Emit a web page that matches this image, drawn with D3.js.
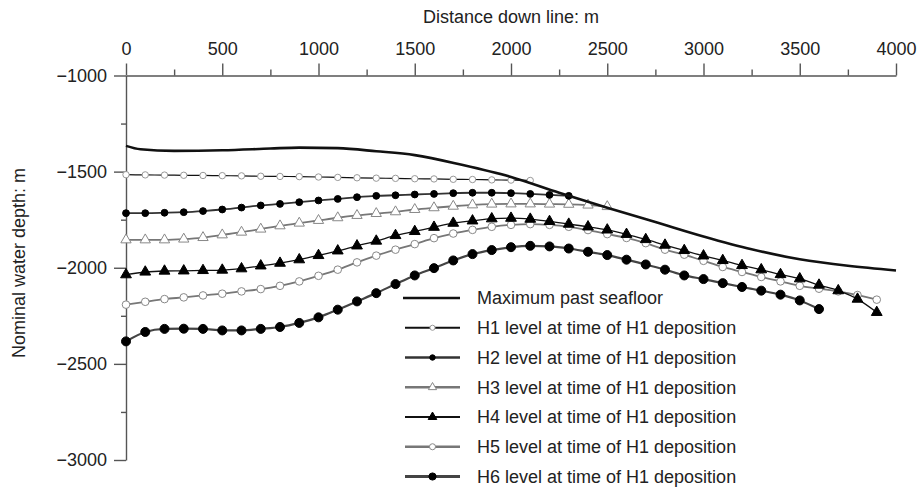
<!DOCTYPE html>
<html>
<head>
<meta charset="utf-8">
<script src="https://cdn.jsdelivr.net/npm/d3@7"></script>
<style>
  body { margin: 0; background: #fff; }
  svg text { font-family: "Liberation Sans", Arial, sans-serif; fill: #222; }
</style>
</head>
<body>
<div id="chart"></div>
<script>
// stations along the line (m), one marker every 100 m
var stations = [0,100,200,300,400,500,600,700,800,900,1000,1100,1200,1300,1400,1500,1600,1700,1800,1900,
                2000,2100,2200,2300,2400,2500,2600,2700,2800,2900,3000,3100,3200,3300,3400,3500,3600,3700,3800,3900];

var floorX = [0,75,250,500,750,900,1100,1300,1500,1750,2000,2250,2500,2750,3000,3250,3500,3750,4000];
var floorY = [-1366,-1384,-1392,-1389,-1380,-1375,-1378,-1394,-1414,-1466,-1528,-1610,-1688,-1762,-1837,-1904,-1956,-1990,-2014];

var h1 = [-1516,-1517,-1518,-1519,-1520,-1521,-1522,-1524,-1525,-1526,-1528,-1530,-1532,-1534,-1535,-1537,-1538,-1540,-1541,-1543,-1544,-1546];
var h2 = [-1716,-1716,-1714,-1711,-1705,-1697,-1687,-1676,-1668,-1659,-1650,-1642,-1633,-1626,-1623,-1619,-1616,-1612,-1610,-1610,-1612,-1616,-1621,-1626];
var h3 = [-1855,-1855,-1855,-1851,-1843,-1829,-1815,-1799,-1782,-1768,-1754,-1740,-1728,-1718,-1709,-1697,-1688,-1680,-1673,-1669,-1668,-1668,-1669,-1670,-1674,-1682];
var h4 = [-2036,-2022,-2017,-2016,-2014,-2012,-2005,-1990,-1976,-1958,-1936,-1912,-1886,-1861,-1832,-1811,-1789,-1768,-1756,-1745,
          -1742,-1747,-1759,-1773,-1787,-1803,-1826,-1853,-1882,-1910,-1938,-1962,-1988,-2010,-2035,-2057,-2090,-2119,-2163,-2232];
var h5 = [-2192,-2177,-2163,-2154,-2144,-2135,-2123,-2111,-2094,-2071,-2042,-2010,-1972,-1937,-1906,-1877,-1846,-1822,-1803,-1787,
          -1777,-1773,-1777,-1787,-1804,-1825,-1845,-1872,-1906,-1932,-1964,-1996,-2022,-2048,-2071,-2094,-2109,-2123,-2142,-2166];
var h6 = [-2383,-2334,-2318,-2317,-2318,-2326,-2326,-2318,-2308,-2287,-2258,-2218,-2175,-2132,-2085,-2040,-2002,-1962,-1929,-1908,
          -1893,-1886,-1889,-1900,-1917,-1934,-1958,-1983,-2010,-2040,-2059,-2080,-2100,-2119,-2140,-2170,-2215];

var xTicks = [0,500,1000,1500,2000,2500,3000,3500,4000];
var xMinor = [250,750,1250,1750,2250,2750,3250,3750];
var yTicks = [-1000,-1500,-2000,-2500,-3000];
var yMinor = [-1250,-1750,-2250,-2750];

var legendNames = ["Maximum past seafloor",
                   "H1 level at time of H1 deposition",
                   "H2 level at time of H1 deposition",
                   "H3 level at time of H1 deposition",
                   "H4 level at time of H1 deposition",
                   "H5 level at time of H1 deposition",
                   "H6 level at time of H1 deposition"];

var width = 917, height = 488;

var svg = d3.select("#chart").append("svg")
    .attr("width", width)
    .attr("height", height);

var x = d3.scaleLinear().domain([0, 4000]).range([126, 896]);
var y = d3.scaleLinear().domain([-1000, -3000]).range([75.5, 460]);

// series styles
var series = [
  {name: legendNames[1], values: h1, line: "#111", lw: 1.2, shape: "circle", r: 3.2, fill: "#fff", stroke: "#999", sw: 1},
  {name: legendNames[2], values: h2, line: "#333", lw: 1.8, shape: "circle", r: 3.4, fill: "#000", stroke: "#000", sw: 1},
  {name: legendNames[3], values: h3, line: "#777", lw: 1.8, shape: "triangle", r: 4.2, fill: "#fff", stroke: "#888", sw: 1},
  {name: legendNames[4], values: h4, line: "#111", lw: 1.3, shape: "triangle", r: 4.4, fill: "#000", stroke: "#000", sw: 1},
  {name: legendNames[5], values: h5, line: "#777", lw: 1.8, shape: "circle", r: 3.8, fill: "#fff", stroke: "#888", sw: 1},
  {name: legendNames[6], values: h6, line: "#444", lw: 2.2, shape: "circle", r: 4.5, fill: "#000", stroke: "#000", sw: 1}
];

// axes
var axisColor = "#555";

var xAxis = svg.append("g")
    .attr("transform", "translate(0," + y(-1000) + ")")
    .call(d3.axisTop(x).tickValues(xTicks).tickSize(12).tickSizeOuter(0).tickPadding(8.5).tickFormat(d3.format("d")));
svg.append("g")
    .attr("transform", "translate(0," + y(-1000) + ")")
    .call(d3.axisTop(x).tickValues(xMinor).tickSize(6).tickSizeOuter(0).tickFormat(""))
    .select(".domain").remove();

var yAxis = svg.append("g")
    .attr("transform", "translate(" + x(0) + ",0)")
    .call(d3.axisLeft(y).tickValues(yTicks).tickSize(12).tickSizeOuter(0).tickPadding(7).tickFormat(d3.format("d")));
svg.append("g")
    .attr("transform", "translate(" + x(0) + ",0)")
    .call(d3.axisLeft(y).tickValues(yMinor).tickSize(5).tickSizeOuter(0).tickFormat(""))
    .select(".domain").remove();

svg.selectAll(".domain, .tick line")
    .attr("stroke", axisColor)
    .attr("stroke-width", 1.4);
svg.selectAll(".tick text")
    .attr("font-size", 18)
    .attr("fill", "#222");

svg.append("text")
    .attr("x", 511)
    .attr("y", 22.5)
    .attr("text-anchor", "middle")
    .attr("font-size", 18)
    .text("Distance down line: m");

svg.append("text")
    .attr("transform", "translate(25,263) rotate(-90)")
    .attr("text-anchor", "middle")
    .attr("font-size", 18)
    .text("Nominal water depth: m");

// curves
var line = d3.line()
    .x(function(d){ return x(d[0]); })
    .y(function(d){ return y(d[1]); })
    .curve(d3.curveMonotoneX);

var triangle = d3.symbol().type(d3.symbolTriangle);

function drawMarker(g, shape, s, cx, cy){
    if (shape === "circle") {
        g.append("circle")
            .attr("cx", cx).attr("cy", cy).attr("r", s.r)
            .attr("fill", s.fill).attr("stroke", s.stroke).attr("stroke-width", s.sw);
    } else {
        g.append("path")
            .attr("d", triangle.size(s.r * s.r * 2.6)())
            .attr("transform", "translate(" + cx + "," + cy + ")")
            .attr("fill", s.fill).attr("stroke", s.stroke).attr("stroke-width", s.sw);
    }
}

series.slice().reverse().forEach(function(s){
    var pts = s.values.map(function(v, i){ return [stations[i], v]; });
    var g = svg.append("g");
    g.append("path")
        .datum(pts)
        .attr("d", line)
        .attr("fill", "none")
        .attr("stroke", s.line)
        .attr("stroke-width", s.lw);
    pts.forEach(function(p){
        drawMarker(g, s.shape, s, x(p[0]), y(p[1]));
    });
});

var floorPts = floorX.map(function(d, i){ return [d, floorY[i]]; });
svg.append("path")
    .datum(floorPts)
    .attr("d", line)
    .attr("fill", "none")
    .attr("stroke", "#111")
    .attr("stroke-width", 2.6);

// legend
var legend = svg.append("g");
var rowY = d3.scaleLinear().domain([0, 6]).range([298, 476.5]);

legendNames.forEach(function(name, i){
    var ry = rowY(i);
    if (i === 0) {
        legend.append("line")
            .attr("x1", 403).attr("x2", 460).attr("y1", ry).attr("y2", ry)
            .attr("stroke", "#111").attr("stroke-width", 2.6);
    } else {
        var s = series[i - 1];
        legend.append("line")
            .attr("x1", 405).attr("x2", 460).attr("y1", ry).attr("y2", ry)
            .attr("stroke", s.line).attr("stroke-width", s.lw + 0.6);
        var ls = Object.assign({}, s, {r: s.r * 0.8});
        drawMarker(legend, s.shape, ls, 432.5, ry);
    }
    legend.append("text")
        .attr("x", 477)
        .attr("y", ry)
        .attr("dy", "0.36em")
        .attr("font-size", 18)
        .text(name);
});
</script>
</body>
</html>
